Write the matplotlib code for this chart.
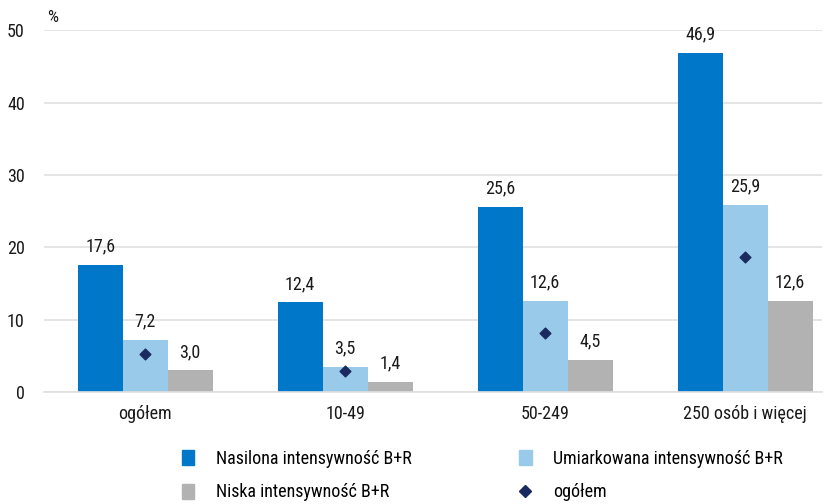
import numpy as np
import matplotlib.pyplot as plt
from matplotlib.lines import Line2D
from matplotlib.patches import Patch

plt.rcParams['font.family'] = ['Roboto Condensed', 'Lato', 'DejaVu Sans']

categories = ['ogółem', '10-49', '50-249', '250 osób i więcej']
nasilona = [17.6, 12.4, 25.6, 46.9]
umiarkowana = [7.2, 3.5, 12.6, 25.9]
niska = [3.0, 1.4, 4.5, 12.6]
ogolem = [5.2, 2.85, 8.1, 18.6]

c_dark = '#0077c8'
c_light = '#9acaea'
c_gray = '#b2b2b2'
c_diam = '#1b2a5e'
c_text = '#1a1a1a'

fig = plt.figure(figsize=(8.33, 5.04), dpi=100)
ax = fig.add_axes([0.053, 0.222, 0.934, 0.718])

x = np.arange(len(categories))
w = 0.225
series = [(nasilona, c_dark, -w), (umiarkowana, c_light, 0), (niska, c_gray, w)]
for vals, col, off in series:
    ax.bar(x + off, vals, width=w, color=col, zorder=2)
    for xi, v in zip(x, vals):
        ax.text(xi + off, v + 1.3, f'{v:.1f}'.replace('.', ','), ha='center', va='bottom',
                fontsize=13, color=c_text)

ax.scatter(x, ogolem, marker='D', s=30, color=c_diam, zorder=3)

ax.set_xlim(-0.505, 3.385)
ax.set_ylim(0, 50)
ax.set_yticks([0, 10, 20, 30, 40, 50])
ax.set_xticks(x)
ax.set_xticklabels(categories)
ax.tick_params(axis='both', length=0, labelsize=13, colors=c_text)
ax.tick_params(axis='y', pad=14)
ax.tick_params(axis='x', pad=9)
ax.grid(axis='y', color='#e0e0e0', linewidth=1.2, zorder=0)
for s in ['top', 'right', 'left']:
    ax.spines[s].set_visible(False)
ax.spines['bottom'].set_color('#e0e0e0')
ax.spines['bottom'].set_linewidth(1.2)

fig.text(0.056, 0.965, '%', fontsize=12.5, ha='left', va='center', color=c_text)

leg_kw = dict(loc='upper left', frameon=False, fontsize=13, handlelength=0.7,
              handleheight=0.9, handletextpad=1.2, labelspacing=0.85,
              borderaxespad=0, borderpad=0)
leg1 = fig.legend([Patch(color=c_dark), Patch(color=c_gray)],
                  ['Nasilona intensywność B+R', 'Niska intensywność B+R'],
                  bbox_to_anchor=(0.218, 0.107), **leg_kw)
leg2 = fig.legend([Patch(color=c_light),
                   Line2D([], [], marker='D', color=c_diam, linestyle='none', markersize=6)],
                  ['Umiarkowana intensywność B+R', 'ogółem'],
                  bbox_to_anchor=(0.623, 0.107), **leg_kw)

fig.savefig('out.png', dpi=100)
